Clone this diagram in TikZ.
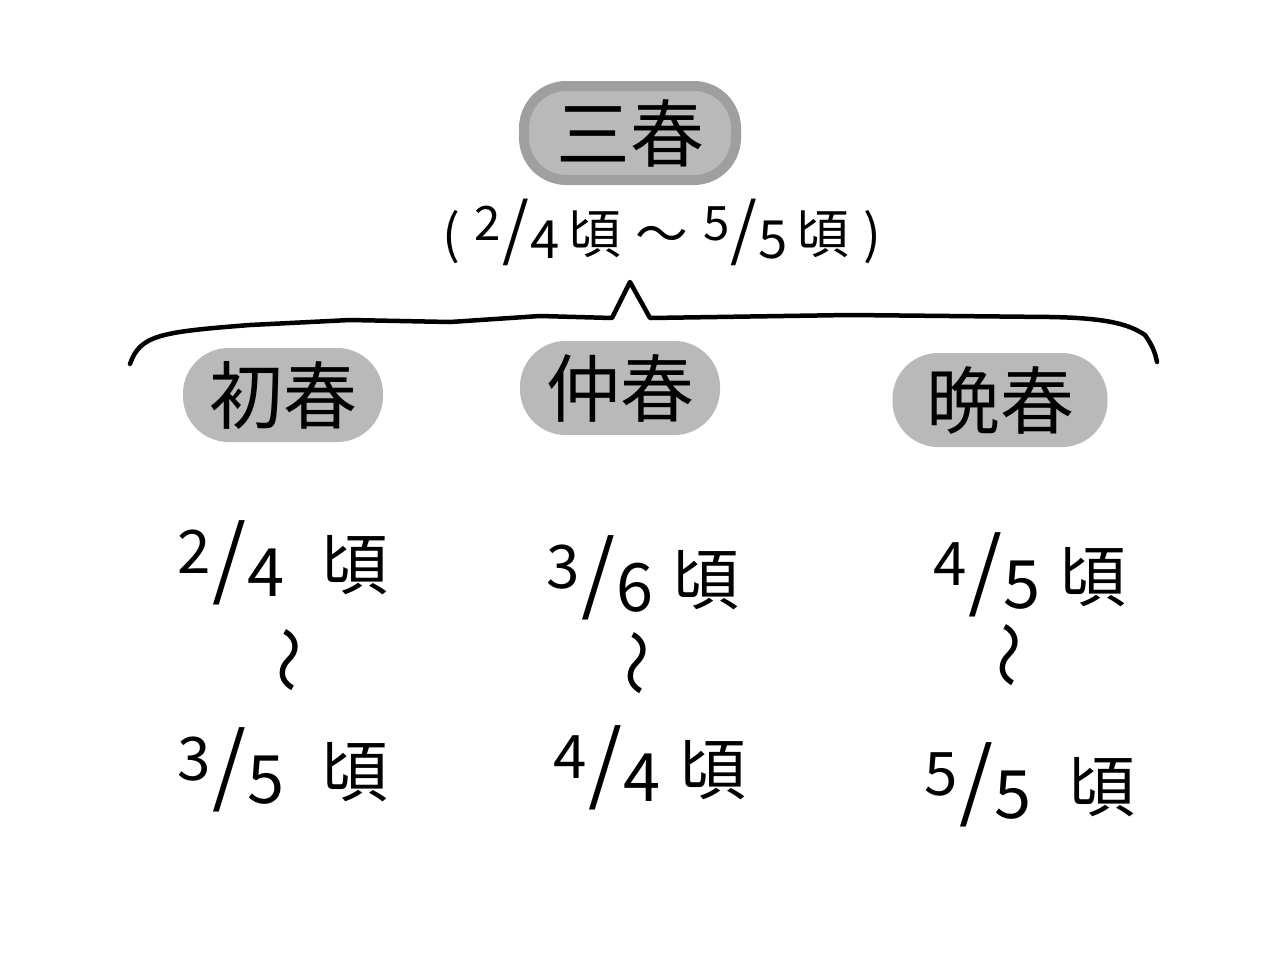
\documentclass[tikz,border=0pt]{standalone}
\usepackage{fontspec}
\setmainfont{Noto Sans CJK JP}
\newcommand\fr[2]{\raisebox{0.45ex}{\scalebox{0.9}{#1}}\kern0.02em\scalebox{1.3}{/}\kern0.02em\raisebox{-0.2ex}{#2}}
\begin{document}
\begin{tikzpicture}[x=0.02cm,y=-0.02cm,
  topbox/.style={draw=gray!75!black!60,line width=2mm,fill=gray!55,rounded corners=24pt,minimum width=212*0.02cm,minimum height=94*0.02cm,inner sep=0pt,font=\fontsize{42}{48}\selectfont},
  subbox/.style={fill=gray!55,rounded corners=26pt,minimum height=94*0.02cm,inner sep=0pt,font=\fontsize{42}{48}\selectfont},
  datetxt/.style={font=\fontsize{38}{44}\selectfont,inner sep=0pt},
  wave/.style={font=\fontsize{38}{44}\selectfont,rotate=90,inner sep=0pt},
  brace/.style={line width=0.9mm,line cap=round,line join=round}]
\useasboundingbox (0,0) rectangle (1280,960);
\node[topbox] (top) at (630,133) {三春};
\node[font=\fontsize{30}{36}\selectfont,inner sep=0pt] (range) at (662,232) {(\;\fr{2}{4}\,頃\;〜\;\fr{5}{5}\,頃\;)};
\coordinate (bl) at (130,364);
\coordinate (br) at (1157,362);
\coordinate (peak) at (630,282);
\draw[brace] (bl) .. controls (140,335) and (160,332) .. (250,325)
  -- (350,320) -- (450,322) -- (540,316) -- (612,318) -- (peak) -- (650,318)
  -- (850,315) -- (1050,317) .. controls (1110,318) and (1130,325) .. (1145,335)
  .. controls (1152,345) and (1155,352) .. (br);
\node[subbox,minimum width=200*0.02cm] (n1) at (283,395) {初春};
\node[subbox,minimum width=200*0.02cm] (n2) at (620,388) {仲春};
\node[subbox,minimum width=215*0.02cm] (n3) at (1000,400) {晩春};
% dates
\node[datetxt] (a1) at (283,563) {\fr{2}{4}\;\;頃};
\node[wave] (w1) at (297,660) {〜};
\node[datetxt] (a2) at (283,770) {\fr{3}{5}\;\;頃};
\node[datetxt] (b1) at (643,578) {\fr{3}{6}\;頃};
\node[wave] (w2) at (645,663) {〜};
\node[datetxt] (b2) at (650,768) {\fr{4}{4}\;頃};
\node[datetxt] (c1) at (1030,575) {\fr{4}{5}\;頃};
\node[wave] (w3) at (1017,655) {〜};
\node[datetxt] (c2) at (1030,785) {\fr{5}{5}\;\;頃};
\end{tikzpicture}
\end{document}
